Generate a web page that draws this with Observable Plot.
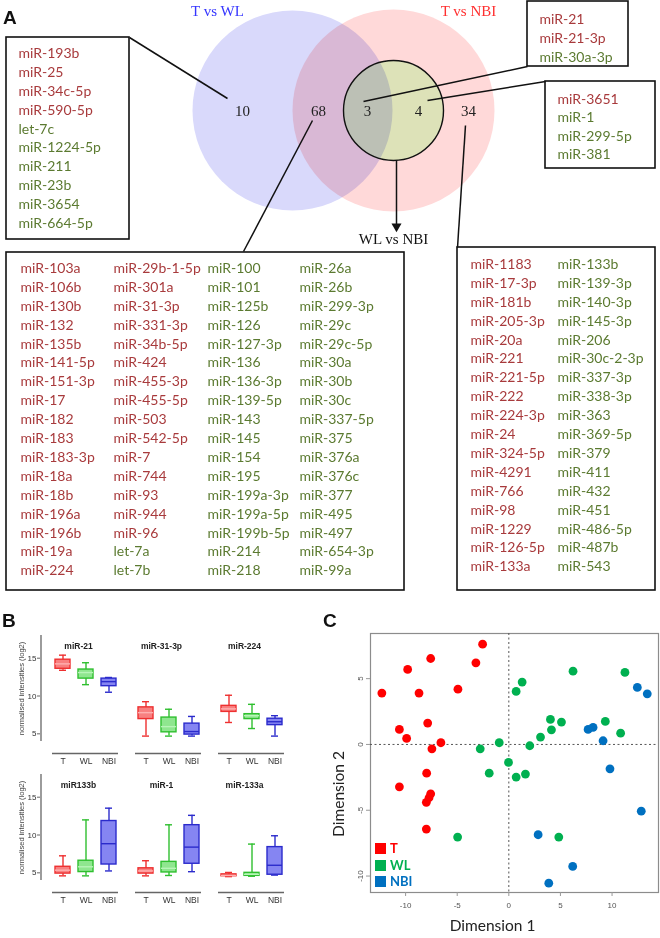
<!DOCTYPE html>
<html><head><meta charset="utf-8">
<script src="https://cdn.jsdelivr.net/npm/d3@7"></script>
<script src="https://cdn.jsdelivr.net/npm/@observablehq/plot@0.6"></script>
<style>
body{margin:0;background:#fff;}
#root{position:relative;width:660px;height:938px;overflow:hidden;background:#fff;}
#root > svg, #root > figure{position:absolute;margin:0;}
.plabel{position:absolute;font:bold 19px Arial,"Liberation Sans",sans-serif;line-height:1;color:#111;}
.leg{position:absolute;font:bold 13px Lato,sans-serif;line-height:1;}
.leg span.sw{position:absolute;left:0;top:0;width:11px;height:11px;}
.leg span.tx{position:absolute;left:15px;top:-1px;}
</style></head><body><div id="root"></div>
<script>
// ================= DATA =================
// Panel A – Venn diagram
const vennSets = ["T vs WL", "T vs NBI", "WL vs NBI"];
const vennCounts = [10, 68, 3, 4, 34];
const listOnlyWL_up = ["miR-193b","miR-25","miR-34c-5p","miR-590-5p"];
const listOnlyWL_down = ["let-7c","miR-1224-5p","miR-211","miR-23b","miR-3654","miR-664-5p"];
const listShared_up = ["miR-103a","miR-106b","miR-130b","miR-132","miR-135b","miR-141-5p","miR-151-3p","miR-17","miR-182","miR-183","miR-183-3p","miR-18a","miR-18b","miR-196a","miR-196b","miR-19a","miR-224",
  "miR-29b-1-5p","miR-301a","miR-31-3p","miR-331-3p","miR-34b-5p","miR-424","miR-455-3p","miR-455-5p","miR-503","miR-542-5p","miR-7","miR-744","miR-93","miR-944","miR-96"];
const listShared_down = ["let-7a","let-7b",
  "miR-100","miR-101","miR-125b","miR-126","miR-127-3p","miR-136","miR-136-3p","miR-139-5p","miR-143","miR-145","miR-154","miR-195","miR-199a-3p","miR-199a-5p","miR-199b-5p","miR-214","miR-218",
  "miR-26a","miR-26b","miR-299-3p","miR-29c","miR-29c-5p","miR-30a","miR-30b","miR-30c","miR-337-5p","miR-375","miR-376a","miR-376c","miR-377","miR-495","miR-497","miR-654-3p","miR-99a"];
const listAll3_up = ["miR-21","miR-21-3p"];
const listAll3_down = ["miR-30a-3p"];
const listWlNbi_up = ["miR-3651"];
const listWlNbi_down = ["miR-1","miR-299-5p","miR-381"];
const listOnlyNBI_up = ["miR-1183","miR-17-3p","miR-181b","miR-205-3p","miR-20a","miR-221","miR-221-5p","miR-222","miR-224-3p","miR-24","miR-324-5p","miR-4291","miR-766","miR-98","miR-1229","miR-126-5p","miR-133a"];
const listOnlyNBI_down = ["miR-133b","miR-139-3p","miR-140-3p","miR-145-3p","miR-206","miR-30c-2-3p","miR-337-3p","miR-338-3p","miR-363","miR-369-5p","miR-379","miR-411","miR-432","miR-451","miR-486-5p","miR-487b","miR-543"];

// Panel B – boxplots: [whisker low, Q1, median, Q3, whisker high] for T, WL, NBI
const bGroups = ["T","WL","NBI"];
const bTopMirs = ["miR-21","miR-31-3p","miR-224"];
const bBottomMirs = ["miR133b","miR-1","miR-133a"];
const bYLabel = "normalised intensities (log2)";
const bYTicks = [5, 10, 15];
const stat_miR21   = [[13.4,13.6,14.25,14.8,15.4],[11.5,12.3,13.1,13.5,14.4],[10.5,11.3,11.9,12.3,12.45]];
const stat_miR31_3p= [[4.7,6.95,7.8,8.5,9.25],[4.7,5.2,5.95,7.15,8.25],[4.7,4.9,5.3,6.35,7.3]];
const stat_miR224  = [[6.5,7.9,8.3,8.7,10.1],[5.7,6.95,7.4,7.6,8.9],[4.7,6.15,6.6,7.0,7.4]];
const stat_miR133b = [[4.6,4.9,5.35,5.8,7.25],[4.6,5.1,5.8,6.6,12.0],[5.25,6.1,8.85,11.85,13.55]];
const stat_miR1    = [[4.6,4.9,5.25,5.6,6.6],[4.65,5.05,5.6,6.45,11.35],[5.15,6.2,8.4,11.3,12.6]];
const stat_miR133a = [[4.5,4.55,4.65,4.8,5.05],[4.55,4.6,4.8,5.0,8.8],[4.7,4.75,6.0,8.4,9.9]];

// Panel C – MDS plot
const cGroups = ["T","WL","NBI"];
const mdsT = [[-12.3,3.9],[-10.6,1.14],[-9.9,0.46],[-9.8,5.7],[-8.7,3.9],[-7.86,1.62],[-7.57,6.53],[-7.45,-0.33],[-6.58,0.13],[-4.93,4.2],[-3.19,6.2],[-2.54,7.62],
  [-7.96,-2.18],[-10.6,-3.22],[-7.57,-3.75],[-7.73,-4.05],[-7.99,-4.4],[-7.99,-6.43]];
const mdsWL = [[-2.77,-0.33],[-0.93,0.13],[0.71,4.03],[1.29,4.74],[2.03,-0.1],[3.07,0.56],[4.03,1.9],[4.13,1.11],[5.1,1.7],[6.22,5.57],[9.35,1.75],[10.83,0.86],[11.25,5.47],
  [-0.03,-1.37],[-1.9,-2.18],[0.71,-2.48],[1.61,-2.25],[-4.96,-7.04],[4.84,-7.04]];
const mdsNBI = [[7.68,1.14],[8.16,1.29],[9.13,0.28],[12.45,4.33],[13.41,3.85],[9.8,-1.85],[12.83,-5.07],[2.84,-6.86],[6.19,-9.27],[3.87,-10.54]];
const cXTicks = [-10,-5,0,5,10];
const cYTicks = [-10,-5,0,5];
const cXLabel = "Dimension 1";
const cYLabel = "Dimension 2";

// ================= LAYOUT / STYLE =================
const root = document.getElementById("root");
const listFont = "Lato, 'Open Sans', sans-serif";
const serif = "'Liberation Serif', 'DejaVu Serif', serif";
const upColor = "#a83a3c", downColor = "#5b7a30";

const geomA = {
  pink: {x: 393, y: 110, r: 101},
  blue: {x: 292, y: 110, r: 100},
  inner: {x: 393, y: 110, r: 50},
  titles: [{x: 217, y: 11, c: "#3535ff"}, {x: 468, y: 11, c: "#ff3030"}, {x: 393, y: 239, c: "#111"}],
  counts: [{x: 242, y: 111}, {x: 318, y: 111}, {x: 367, y: 111}, {x: 418, y: 111}, {x: 468, y: 111}],
  connectors: [
    {x1: 129, y1: 37, x2: 227, y2: 98},
    {x1: 312, y1: 120, x2: 243, y2: 251},
    {x1: 465, y1: 125, x2: 457, y2: 247},
    {x1: 363, y1: 101, x2: 527, y2: 66},
    {x1: 427, y1: 100, x2: 545, y2: 81},
    {x1: 396, y1: 160, x2: 396, y2: 224}
  ],
  arrowHead: {x: 396, y: 226},
  boxes: [
    {up: listOnlyWL_up, down: listOnlyWL_down, x1: 6, y1: 37, x2: 129, y2: 239, cols: [18], y0: 53, step: 18.9, per: 10},
    {up: listShared_up, down: listShared_down, x1: 6, y1: 252, x2: 404, y2: 590, cols: [20, 113, 207, 299], y0: 268, step: 18.9, per: 17},
    {up: listOnlyNBI_up, down: listOnlyNBI_down, x1: 457, y1: 247, x2: 655, y2: 590, cols: [470, 557], y0: 264, step: 18.9, per: 17},
    {up: listAll3_up, down: listAll3_down, x1: 527, y1: 1, x2: 628, y2: 66, cols: [539], y0: 19, step: 19, per: 3},
    {up: listWlNbi_up, down: listWlNbi_down, x1: 545, y1: 81, x2: 655, y2: 168, cols: [557], y0: 99, step: 18.4, per: 4}
  ]
};

// ---------- Panel A ----------
const listTexts = geomA.boxes.flatMap(b => {
  const items = b.up.map(n => ({name: n, dir: "up"})).concat(b.down.map(n => ({name: n, dir: "down"})));
  return items.map((it, i) => ({...it, x: b.cols[Math.floor(i / b.per)], y: b.y0 + (i % b.per) * b.step}));
});
const titleData = vennSets.map((t, i) => ({t, ...geomA.titles[i]}));
const countData = vennCounts.map((n, i) => ({n, ...geomA.counts[i]}));

const plotA = Plot.plot({
  width: 660, height: 595, margin: 0,
  x: {type: "identity", axis: null}, y: {type: "identity", axis: null},
  style: "background:transparent;overflow:visible;",
  marks: [
    Plot.dot([geomA.pink], {x: "x", y: "y", r: geomA.pink.r, fill: "#ffd9d9", stroke: "none"}),
    Plot.dot([geomA.inner], {x: "x", y: "y", r: geomA.inner.r, fill: "#dde2b8", stroke: "none"}),
    Plot.dot([geomA.blue], {x: "x", y: "y", r: geomA.blue.r, fill: "#d9d9fb", stroke: "none", mixBlendMode: "multiply"}),
    Plot.dot([geomA.inner], {x: "x", y: "y", r: geomA.inner.r, fill: "none", stroke: "#111", strokeWidth: 1.4}),
    Plot.rect(geomA.boxes, {x1: "x1", x2: "x2", y1: "y1", y2: "y2", fill: "none", stroke: "#111", strokeWidth: 1.6}),
    Plot.link(geomA.connectors, {x1: "x1", y1: "y1", x2: "x2", y2: "y2", stroke: "#111", strokeWidth: 1.5}),
    Plot.dot([geomA.arrowHead], {x: "x", y: "y", symbol: "triangle2", r: 4.8, rotate: 180, fill: "#111", stroke: "none"}),
    Plot.text(titleData, {x: "x", y: "y", text: "t", fill: "c", fontFamily: serif, fontSize: 15}),
    Plot.text(countData, {x: "x", y: "y", text: "n", fill: "#222", fontFamily: serif, fontSize: 15}),
    Plot.text(listTexts, {x: "x", y: "y", text: "name", textAnchor: "start", fill: d => d.dir === "up" ? upColor : downColor, fontFamily: listFont, fontSize: 14})
  ]
});
plotA.style.left = "0px"; plotA.style.top = "0px";
root.appendChild(plotA);

// ---------- Panel B ----------
const bStats = {"miR-21": stat_miR21, "miR-31-3p": stat_miR31_3p, "miR-224": stat_miR224,
                "miR133b": stat_miR133b, "miR-1": stat_miR1, "miR-133a": stat_miR133a};
const bStroke = {T: "#ee3030", WL: "#2fbf2f", NBI: "#2b2bcc"};
const bFill = {T: "#f88080", WL: "#8fe68f", NBI: "#8585f2"};
const bMed = {T: "#ffb0b0", WL: "#b8f5b8", NBI: "#2b2bcc"};
const bYMin = 2.4, bYMax = 18;

function boxRow(mirs, top) {
  const rows = mirs.flatMap(m => bGroups.map((g, i) => {
    const s = bStats[m][i];
    return {mir: m, group: g, lo: s[0], q1: s[1], med: s[2], q3: s[3], hi: s[4]};
  }));
  const first = [{mir: mirs[0], group: bGroups[0]}];
  const p = Plot.plot({
    width: 300, height: 150, marginTop: 10, marginBottom: 22, marginLeft: 52, marginRight: 15,
    style: "background:transparent;overflow:visible;font-family:Arial,'Liberation Sans',sans-serif;color:#333;",
    fx: {domain: mirs, paddingInner: 0.2, paddingOuter: 0, axis: null},
    x: {type: "band", domain: bGroups, paddingInner: 0.35, paddingOuter: 0.1},
    y: {domain: [bYMin, bYMax]},
    marks: [
      Plot.ruleY([bYMin], {stroke: "#666", strokeWidth: 1.3}),
      Plot.ruleX(first, {fx: "mir", x: "group", y1: 4, y2: bYMax, dx: -22, stroke: "#666", strokeWidth: 1.3}),
      Plot.axisX({tickSize: 0, tickPadding: 4, fontSize: 8.5, label: null}),
      Plot.axisY({ticks: bYTicks, tickSize: 3, tickPadding: 1, dx: -12, fontSize: 8, label: null, stroke: "#666"}),
      Plot.text(first, {fx: "mir", text: () => bYLabel, frameAnchor: "left", textAnchor: "middle", y: 11, dx: -31, rotate: -90, fontSize: 7.5, fill: "#444"}),
      Plot.text(mirs, {fx: d => d, text: d => d, frameAnchor: "top", dy: 7, dx: -7, fontSize: 8.5, fontWeight: "bold", fill: "#222"}),
      Plot.ruleX(rows, {fx: "mir", x: "group", y1: "lo", y2: "hi", stroke: d => bStroke[d.group], strokeWidth: 1.4}),
      Plot.tickY(rows, {fx: "mir", x: "group", y: "lo", stroke: d => bStroke[d.group], strokeWidth: 1.4, inset: 4}),
      Plot.tickY(rows, {fx: "mir", x: "group", y: "hi", stroke: d => bStroke[d.group], strokeWidth: 1.4, inset: 4}),
      Plot.barY(rows, {fx: "mir", x: "group", y1: "q1", y2: "q3", fill: d => bFill[d.group], stroke: d => bStroke[d.group], strokeWidth: 1.4}),
      Plot.tickY(rows, {fx: "mir", x: "group", y: "med", stroke: d => bMed[d.group], strokeWidth: 1.4})
    ]
  });
  p.style.left = "0px"; p.style.top = top + "px";
  root.appendChild(p);
}
boxRow(bTopMirs, 625);
boxRow(bBottomMirs, 764);

// ---------- Panel C ----------
const cColor = {T: "#ff0000", WL: "#00b050", NBI: "#0070c0"};
const mdsPoints = [mdsT, mdsWL, mdsNBI].flatMap((arr, gi) => arr.map(([x, y]) => ({x, y, group: cGroups[gi]})));
const plotC = Plot.plot({
  width: 340, height: 338, marginLeft: 50, marginRight: 2, marginTop: 33, marginBottom: 46,
  style: "background:transparent;overflow:visible;font-family:Arial,'Liberation Sans',sans-serif;color:#555;",
  x: {domain: [-13.4, 14.5]},
  y: {domain: [-11.25, 8.43]},
  marks: [
    Plot.frame({stroke: "#8c8c8c", strokeWidth: 1.2}),
    Plot.ruleX([0], {stroke: "#555", strokeDasharray: "2,2.5"}),
    Plot.ruleY([0], {stroke: "#555", strokeDasharray: "2,2.5"}),
    Plot.axisX({ticks: cXTicks, tickFormat: d => String(d), tickSize: 4, tickPadding: 6, fontSize: 8, label: null, stroke: "#999"}),
    Plot.axisY({ticks: cYTicks, tickFormat: d => String(d), tickSize: 4, tickPadding: 4, tickRotate: -90, fontSize: 8, label: null, stroke: "#999"}),
    Plot.dot(mdsPoints, {x: "x", y: "y", r: 4.4, fill: d => cColor[d.group], stroke: "none"}),
    Plot.text([cXLabel], {text: d => d, frameAnchor: "bottom", dy: 38, dx: -22, fontSize: 15.5, fontFamily: listFont, fill: "#222"}),
    Plot.text([cYLabel], {text: d => d, frameAnchor: "left", textAnchor: "middle", dx: -31, dy: 31, rotate: -90, fontSize: 15.5, fontFamily: listFont, fill: "#222"})
  ]
});
plotC.style.left = "320px"; plotC.style.top = "600px";
root.appendChild(plotC);

// legend for panel C
cGroups.forEach((g, i) => {
  const d = document.createElement("div");
  d.className = "leg";
  d.style.left = "375px"; d.style.top = (843 + i * 16.5) + "px";
  d.innerHTML = `<span class="sw" style="background:${cColor[g]}"></span><span class="tx" style="color:${cColor[g]}">${g}</span>`;
  root.appendChild(d);
});

// panel letters
[["A", 3, 8], ["B", 2, 611], ["C", 323, 611]].forEach(([t, x, y]) => {
  const d = document.createElement("div");
  d.className = "plabel"; d.textContent = t;
  d.style.left = x + "px"; d.style.top = y + "px";
  root.appendChild(d);
});
</script></body></html>
